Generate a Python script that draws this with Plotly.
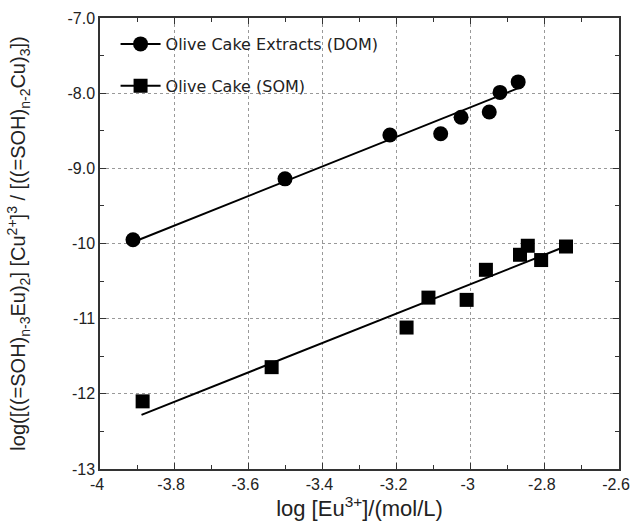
import plotly.graph_objects as go

# DOM: Olive Cake Extracts
dom_x = [-3.911, -3.501, -3.218, -3.081, -3.026, -2.950, -2.921, -2.872]
dom_y = [-9.95, -9.14, -8.556, -8.54, -8.32, -8.25, -7.99, -7.85]
dom_fit_x = [-3.91, -2.87]
dom_fit_y = [-9.98, -7.93]

# SOM: Olive Cake
som_x = [-3.885, -3.537, -3.173, -3.114, -3.011, -2.959, -2.867, -2.846, -2.810, -2.743]
som_y = [-12.10, -11.645, -11.118, -10.72, -10.75, -10.35, -10.15, -10.03, -10.22, -10.04]
som_fit_x = [-3.888, -2.75]
som_fit_y = [-12.28, -10.05]

x_ticks = [-4, -3.8, -3.6, -3.4, -3.2, -3, -2.8, -2.6]
x_ticktext = ["-4", "-3.8", "-3.6", "-3.4", "-3.2", "-3", "-2.8", "-2.6"]
y_ticks = [-7, -8, -9, -10, -11, -12, -13]
y_ticktext = ["-7.0", "-8.0", "-9.0", "-10", "-11", "-12", "-13"]

fig = go.Figure()
fig.add_trace(go.Scatter(x=dom_fit_x, y=dom_fit_y, mode="lines",
                         line=dict(color="black", width=2), showlegend=False))
fig.add_trace(go.Scatter(x=som_fit_x, y=som_fit_y, mode="lines",
                         line=dict(color="black", width=2), showlegend=False))
fig.add_trace(go.Scatter(x=dom_x, y=dom_y, mode="markers",
                         marker=dict(symbol="circle", size=15, color="black"), showlegend=False))
fig.add_trace(go.Scatter(x=som_x, y=som_y, mode="markers",
                         marker=dict(symbol="square", size=14, color="black"), showlegend=False))
# legend entries
fig.add_trace(go.Scatter(x=[None], y=[None], mode="lines+markers", name="Olive Cake Extracts (DOM)",
                         legendgroup="a",
                         line=dict(color="black", width=2),
                         marker=dict(symbol="circle", size=15, color="black")))
fig.add_trace(go.Scatter(x=[None], y=[None], mode="lines+markers", name="Olive Cake (SOM)",
                         legendgroup="b",
                         line=dict(color="black", width=2),
                         marker=dict(symbol="square", size=14, color="black")))

axis_common = dict(
    showline=True, linecolor="#333", linewidth=1.5, mirror="ticks",
    ticks="inside", ticklen=6, tickcolor="#333", tickwidth=1,
    showgrid=True, gridcolor="#999", griddash="dot", gridwidth=1,
    zeroline=False, automargin=False, ticklabeloverflow="allow",
    tickfont=dict(family="Liberation Sans, Arial", size=16, color="#222"),
)

fig.update_xaxes(range=[-4, -2.6], tickvals=x_ticks, ticktext=x_ticktext, ticklabelshift=-3,
                 minor=dict(ticks="inside", ticklen=4, dtick=0.1, tick0=-4, tickcolor="#333", showgrid=False),
                 title=dict(text="log [Eu<sup>3+</sup>]/(mol/L)",
                            font=dict(family="Liberation Sans, Arial", size=22, color="#222"), standoff=7),
                 **axis_common)
fig.update_yaxes(range=[-13, -7], tickvals=y_ticks, ticktext=y_ticktext,
                 minor=dict(ticks="inside", ticklen=4, dtick=0.5, tick0=-13, tickcolor="#333", showgrid=False),
                 title=dict(text="log([((=SOH)<sub>n-3</sub>Eu)<sub>2</sub>] [Cu<sup>2+</sup>]<sup>3</sup> / [((=SOH)<sub>n-2</sub>Cu)<sub>3</sub>])",
                            font=dict(family="Liberation Sans, Arial", size=20, color="#222"), standoff=36),
                 **axis_common)

fig.update_layout(
    width=632, height=526,
    margin=dict(l=100, r=13, t=18, b=57),
    paper_bgcolor="white", plot_bgcolor="white",
    legend=dict(x=0.03, y=0.98, xanchor="left", yanchor="top", traceorder="grouped",
                bgcolor="rgba(255,255,255,0)", itemwidth=40, tracegroupgap=18,
                font=dict(family="DejaVu Sans, Noto Sans", size=16, color="#222")),
)

fig.write_html(
    "out.html",
    config={"displayModeBar": False},
    post_script=(
        "document.body.style.margin='0';"
        "document.body.style.overflow='hidden';"
        "document.documentElement.style.overflow='hidden';"
    ),
)
